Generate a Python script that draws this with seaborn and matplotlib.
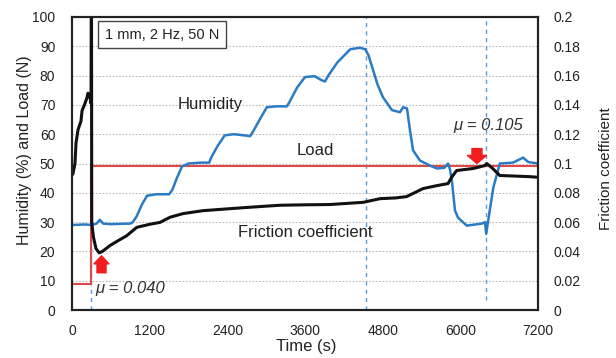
import matplotlib
matplotlib.use("Agg")
import matplotlib.pyplot as plt
import matplotlib.ticker as mticker
import pandas as pd
import seaborn as sns

# ---------------- data ----------------
time_hum = [0, 200, 300, 380, 430, 480, 600, 900, 940, 1000, 1080, 1160, 1300, 1500,
            1550, 1620, 1700, 1800, 2000, 2120, 2150, 2250, 2360, 2500, 2700, 2750,
            2800, 2900, 3010, 3150, 3320, 3360, 3480, 3600, 3750, 3850, 3910, 3960,
            4100, 4300, 4450, 4530, 4580, 4650, 4720, 4805, 4944, 5068, 5114, 5176,
            5222, 5270, 5377, 5530, 5640, 5750, 5810, 5840, 5870, 5917, 5964, 6100,
            6335, 6380, 6400, 6430, 6510, 6610, 6815, 6970, 7050, 7200]
humidity = [29.0, 29.2, 29.0, 29.5, 30.8, 29.5, 29.3, 29.5, 30.0, 32.0, 36.0, 39.0, 39.5, 39.5,
            41.0, 45.0, 49.0, 50.0, 50.3, 50.3, 52.0, 56.0, 59.6, 60.0, 59.5, 59.3,
            61.0, 65.0, 69.2, 69.5, 69.5, 71.0, 76.0, 79.5, 79.8, 78.5, 78.0, 80.0,
            84.5, 89.0, 89.5, 89.0, 87.0, 82.0, 77.0, 72.6, 68.2, 67.5, 69.2, 68.8,
            61.3, 54.5, 51.0, 49.3, 48.3, 48.5, 50.0, 48.0, 44.0, 34.0, 31.5, 28.8,
            29.5, 30.0, 26.0, 30.5, 41.8, 50.0, 50.3, 52.0, 50.5, 50.0]

time_load = [0, 300, 300, 7200]
load = [9.0, 9.0, 49.3, 49.3]

time_fric = [0, 15, 46, 62, 93, 139, 155, 200, 232, 247, 278, 294, 300, 305, 330,
             370, 420, 470, 587, 700, 845, 1000, 1200, 1360, 1514, 1715, 2024, 2390,
             2700, 2905, 3214, 3600, 3986, 4500, 4760, 5000, 5170, 5425, 5650, 5810,
             5866, 5943, 6200, 6380, 6407, 6450, 6500, 6610, 6800, 7076, 7200]
friction = [0.092, 0.093, 0.100, 0.114, 0.123, 0.129, 0.136, 0.141, 0.145, 0.148, 0.145,
            0.141, 0.250, 0.060, 0.050, 0.042, 0.039, 0.040, 0.044, 0.047, 0.0507, 0.0564,
            0.0585, 0.0598, 0.0633, 0.0658, 0.0678, 0.069, 0.070, 0.0706, 0.0715, 0.0718,
            0.072, 0.0735, 0.076, 0.0765, 0.0774, 0.0829, 0.085, 0.0863, 0.0906, 0.0952,
            0.0966, 0.0986, 0.100, 0.0985, 0.0966, 0.0918, 0.0915, 0.091, 0.0906]

marker_times = [300, 4550, 6400]
x_ticks = [0, 1200, 2400, 3600, 4800, 6000, 7200]
left_ticks = [0, 10, 20, 30, 40, 50, 60, 70, 80, 90, 100]
right_ticks = [0, 0.02, 0.04, 0.06, 0.08, 0.1, 0.12, 0.14, 0.16, 0.18, 0.2]

df_hum = pd.DataFrame({"t": time_hum, "v": humidity})
df_load = pd.DataFrame({"t": time_load, "v": load})
df_fric = pd.DataFrame({"t": time_fric, "v": friction})

# ---------------- style ----------------
sns.set_style("white")
plt.rcParams["font.family"] = ["Liberation Sans", "DejaVu Sans"]

fig = plt.figure(figsize=(6.16, 3.58), dpi=100)
ax = fig.add_axes([72 / 616, 1 - 310 / 358, 466 / 616, 293 / 358])

ax.grid(axis="y", linestyle=(0, (1.5, 1.5)), color="#b8b8b8", lw=0.8)
ax.grid(axis="x", visible=False)

for t in marker_times:
    ymin = 0.034 if t == 6400 else 0.0
    ax.axvline(t, ymin=ymin, color="#5b9bd5", ls=(0, (3, 3)), lw=1.0, zorder=1)

sns.lineplot(data=df_load, x="t", y="v", ax=ax, color="#e04848", lw=1.5,
             sort=False, estimator=None, zorder=2)
sns.lineplot(data=df_hum, x="t", y="v", ax=ax, color="#2a7bc4", lw=1.8,
             sort=False, estimator=None, zorder=3)

ax.set_xlim(0, 7200)
ax.set_ylim(0, 100)
ax.set_xticks(x_ticks)
ax.set_yticks(left_ticks)
ax.tick_params(axis="x", direction="in", length=4, width=1, pad=10, labelsize=10,
               colors="#222222")
ax.tick_params(axis="y", length=0, pad=12, labelsize=10, colors="#222222")
ax.set_xlabel("Time (s)", fontsize=12, color="#222222")
ax.set_ylabel("Humidity (%) and Load (N)", fontsize=11.5, color="#222222")
ax.xaxis.set_label_coords(0.502, -0.098)
ax.yaxis.set_label_coords(-0.086, 0.546)

ax2 = ax.twinx()
sns.lineplot(data=df_fric, x="t", y="v", ax=ax2, color="#111111", lw=2.2,
             sort=False, estimator=None)
ax2.set_ylim(0, 0.2)
ax2.set_xlim(0, 7200)
ax2.set_yticks(right_ticks)
ax2.yaxis.set_major_formatter(mticker.FuncFormatter(lambda v, p: f"{round(v, 2):g}"))
ax2.tick_params(axis="y", length=0, pad=11, labelsize=10, colors="#222222")
ax2.set_ylabel("Friction coefficient", fontsize=11, color="#222222")
ax2.yaxis.set_label_coords(1.130, 0.483)
ax2.grid(False)

for a in (ax, ax2):
    for s in a.spines.values():
        s.set_color("#222222")
        s.set_linewidth(1.5)

# annotations
ax.text(2130, 70, "Humidity", fontsize=12, ha="center", va="center", color="#222222")
ax.text(3755, 54.5, "Load", fontsize=12, ha="center", va="center", color="#222222")
ax.text(3600, 26.4, "Friction coefficient", fontsize=12, ha="center", va="center",
        color="#222222")
ax.text(355, 7.2, "μ = 0.040", fontsize=12, style="italic", ha="left", va="center",
        color="#333333")
ax.text(6435, 63, "μ = 0.105", fontsize=12, style="italic", ha="center", va="center",
        color="#333333")
ax.text(510, 94, "1 mm, 2 Hz, 50 N", fontsize=10.5, ha="left", va="center", color="#222222",
        bbox=dict(boxstyle="square,pad=0.45", fc="white", ec="#444444", lw=1.0), zorder=5)

ax2.annotate("", xy=(456, 0.037), xytext=(456, 0.0254),
             arrowprops=dict(arrowstyle="simple,head_length=0.58,head_width=1.08,tail_width=0.65",
                             color="#f01e1e", shrinkA=0, shrinkB=0, mutation_scale=10))
ax2.annotate("", xy=(6257, 0.100), xytext=(6257, 0.1102),
             arrowprops=dict(arrowstyle="simple,head_length=0.58,head_width=1.37,tail_width=0.72",
                             color="#f01e1e", shrinkA=0, shrinkB=0, mutation_scale=10))

fig.savefig("out.png", dpi=100)
